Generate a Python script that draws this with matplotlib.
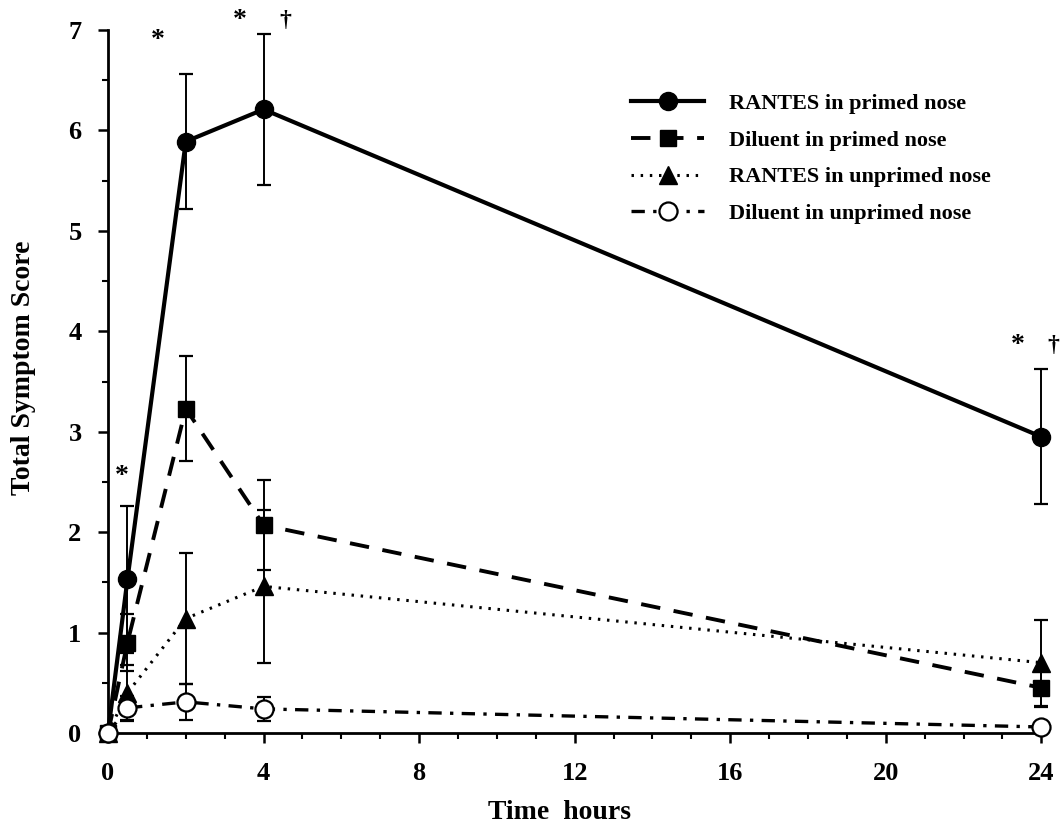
import numpy as np
import matplotlib
matplotlib.use('Agg')
import matplotlib.pyplot as plt
from matplotlib.ticker import MultipleLocator

plt.rcParams['font.family'] = ['Liberation Serif', 'DejaVu Serif']

# datos
horas = [0, 0.5, 2, 4, 24]

rantes_primed = [0, 1.53, 5.89, 6.21, 2.95]
rantes_primed_err = [0, 0.73, 0.67, 0.75, 0.67]

diluent_primed = [0, 0.90, 3.23, 2.07, 0.45]
diluent_primed_err = [0, 0.28, 0.52, 0.45, 0.19]

rantes_unprimed = [0, 0.40, 1.14, 1.46, 0.70]
rantes_unprimed_err = [0, 0.28, 0.65, 0.76, 0.43]

diluent_unprimed = [0, 0.25, 0.31, 0.24, 0.06]
diluent_unprimed_err = [0, 0.12, 0.18, 0.12, 0]

etiquetas = ['RANTES in primed nose', 'Diluent in primed nose',
             'RANTES in unprimed nose', 'Diluent in unprimed nose']

fig = plt.figure(figsize=(10.63, 8.26), dpi=100)
ax = fig.add_axes([0.1016, 0.1126, 0.878, 0.851])

# barras de error
for y, e in [(rantes_primed, rantes_primed_err), (diluent_primed, diluent_primed_err),
             (rantes_unprimed, rantes_unprimed_err), (diluent_unprimed, diluent_unprimed_err)]:
    ax.errorbar(horas, y, yerr=e, fmt='none', ecolor='black', elinewidth=1.4,
                capsize=5, capthick=1.6, zorder=2, clip_on=False)

l1, = ax.plot(horas, rantes_primed, '-', color='black', lw=3.0, marker='o',
              ms=13, mfc='black', mec='black', zorder=4, clip_on=False)
l2, = ax.plot(horas, diluent_primed, color='black', lw=2.8, ls=(0, (5, 3.5)),
              marker='s', ms=12, mfc='black', mec='black', zorder=4, clip_on=False)
l3, = ax.plot(horas, rantes_unprimed, color='black', lw=2.2, ls=(0, (0.8, 2.2)),
              marker='^', ms=13, mfc='black', mec='black', zorder=4, clip_on=False)
l4, = ax.plot(horas, diluent_unprimed, color='black', lw=2.4, ls=(0, (4, 2.5, 1, 2.5)),
              marker='o', ms=13, mfc='white', mec='black', mew=1.6, zorder=5, clip_on=False)

ax.set_xlim(0, 24)
ax.set_ylim(0, 7)
ax.xaxis.set_major_locator(MultipleLocator(4))
ax.xaxis.set_minor_locator(MultipleLocator(1))
ax.yaxis.set_major_locator(MultipleLocator(1))
ax.yaxis.set_minor_locator(MultipleLocator(0.5))

for s in ['top', 'right']:
    ax.spines[s].set_visible(False)
for s in ['left', 'bottom']:
    ax.spines[s].set_linewidth(2)

ax.tick_params(which='major', direction='out', length=7, width=1.8, labelsize=19)
ax.tick_params(axis='x', which='major', pad=14)
ax.tick_params(axis='y', which='major', pad=12)
ax.tick_params(which='minor', direction='out', length=4, width=1.5)
for t in ax.get_xticklabels() + ax.get_yticklabels():
    t.set_fontweight('bold')

ax.set_xlabel('Time  hours', fontsize=20, fontweight='bold')
ax.xaxis.set_label_coords((560 - 108) / 934, -0.095)
ax.set_ylabel('Total Symptom Score', fontsize=20, fontweight='bold')
ax.yaxis.set_label_coords(-0.077, 0.52)

# marcas de significancia
ax.text(0.35, 2.55, '*', fontsize=20, fontweight='bold', ha='center', va='center')
ax.text(1.27, 6.9, '*', fontsize=20, fontweight='bold', ha='center', va='center')
ax.text(3.4, 7.1, '*', fontsize=20, fontweight='bold', ha='center', va='center', clip_on=False)
ax.text(4.55, 7.1, '†', fontsize=17, fontweight='bold', ha='center', va='center', clip_on=False)
ax.text(23.4, 3.86, '*', fontsize=20, fontweight='bold', ha='center', va='center')
ax.text(24.3, 3.86, '†', fontsize=17, fontweight='bold', ha='center', va='center', clip_on=False)

leg = ax.legend([l1, l2, l3, l4], etiquetas, loc='upper left',
                bbox_to_anchor=(0.539, 0.938), frameon=False,
                handlelength=3.3, handletextpad=1.1, labelspacing=0.72,
                prop={'weight': 'bold', 'size': 16})

fig.savefig('out.png', dpi=100)
